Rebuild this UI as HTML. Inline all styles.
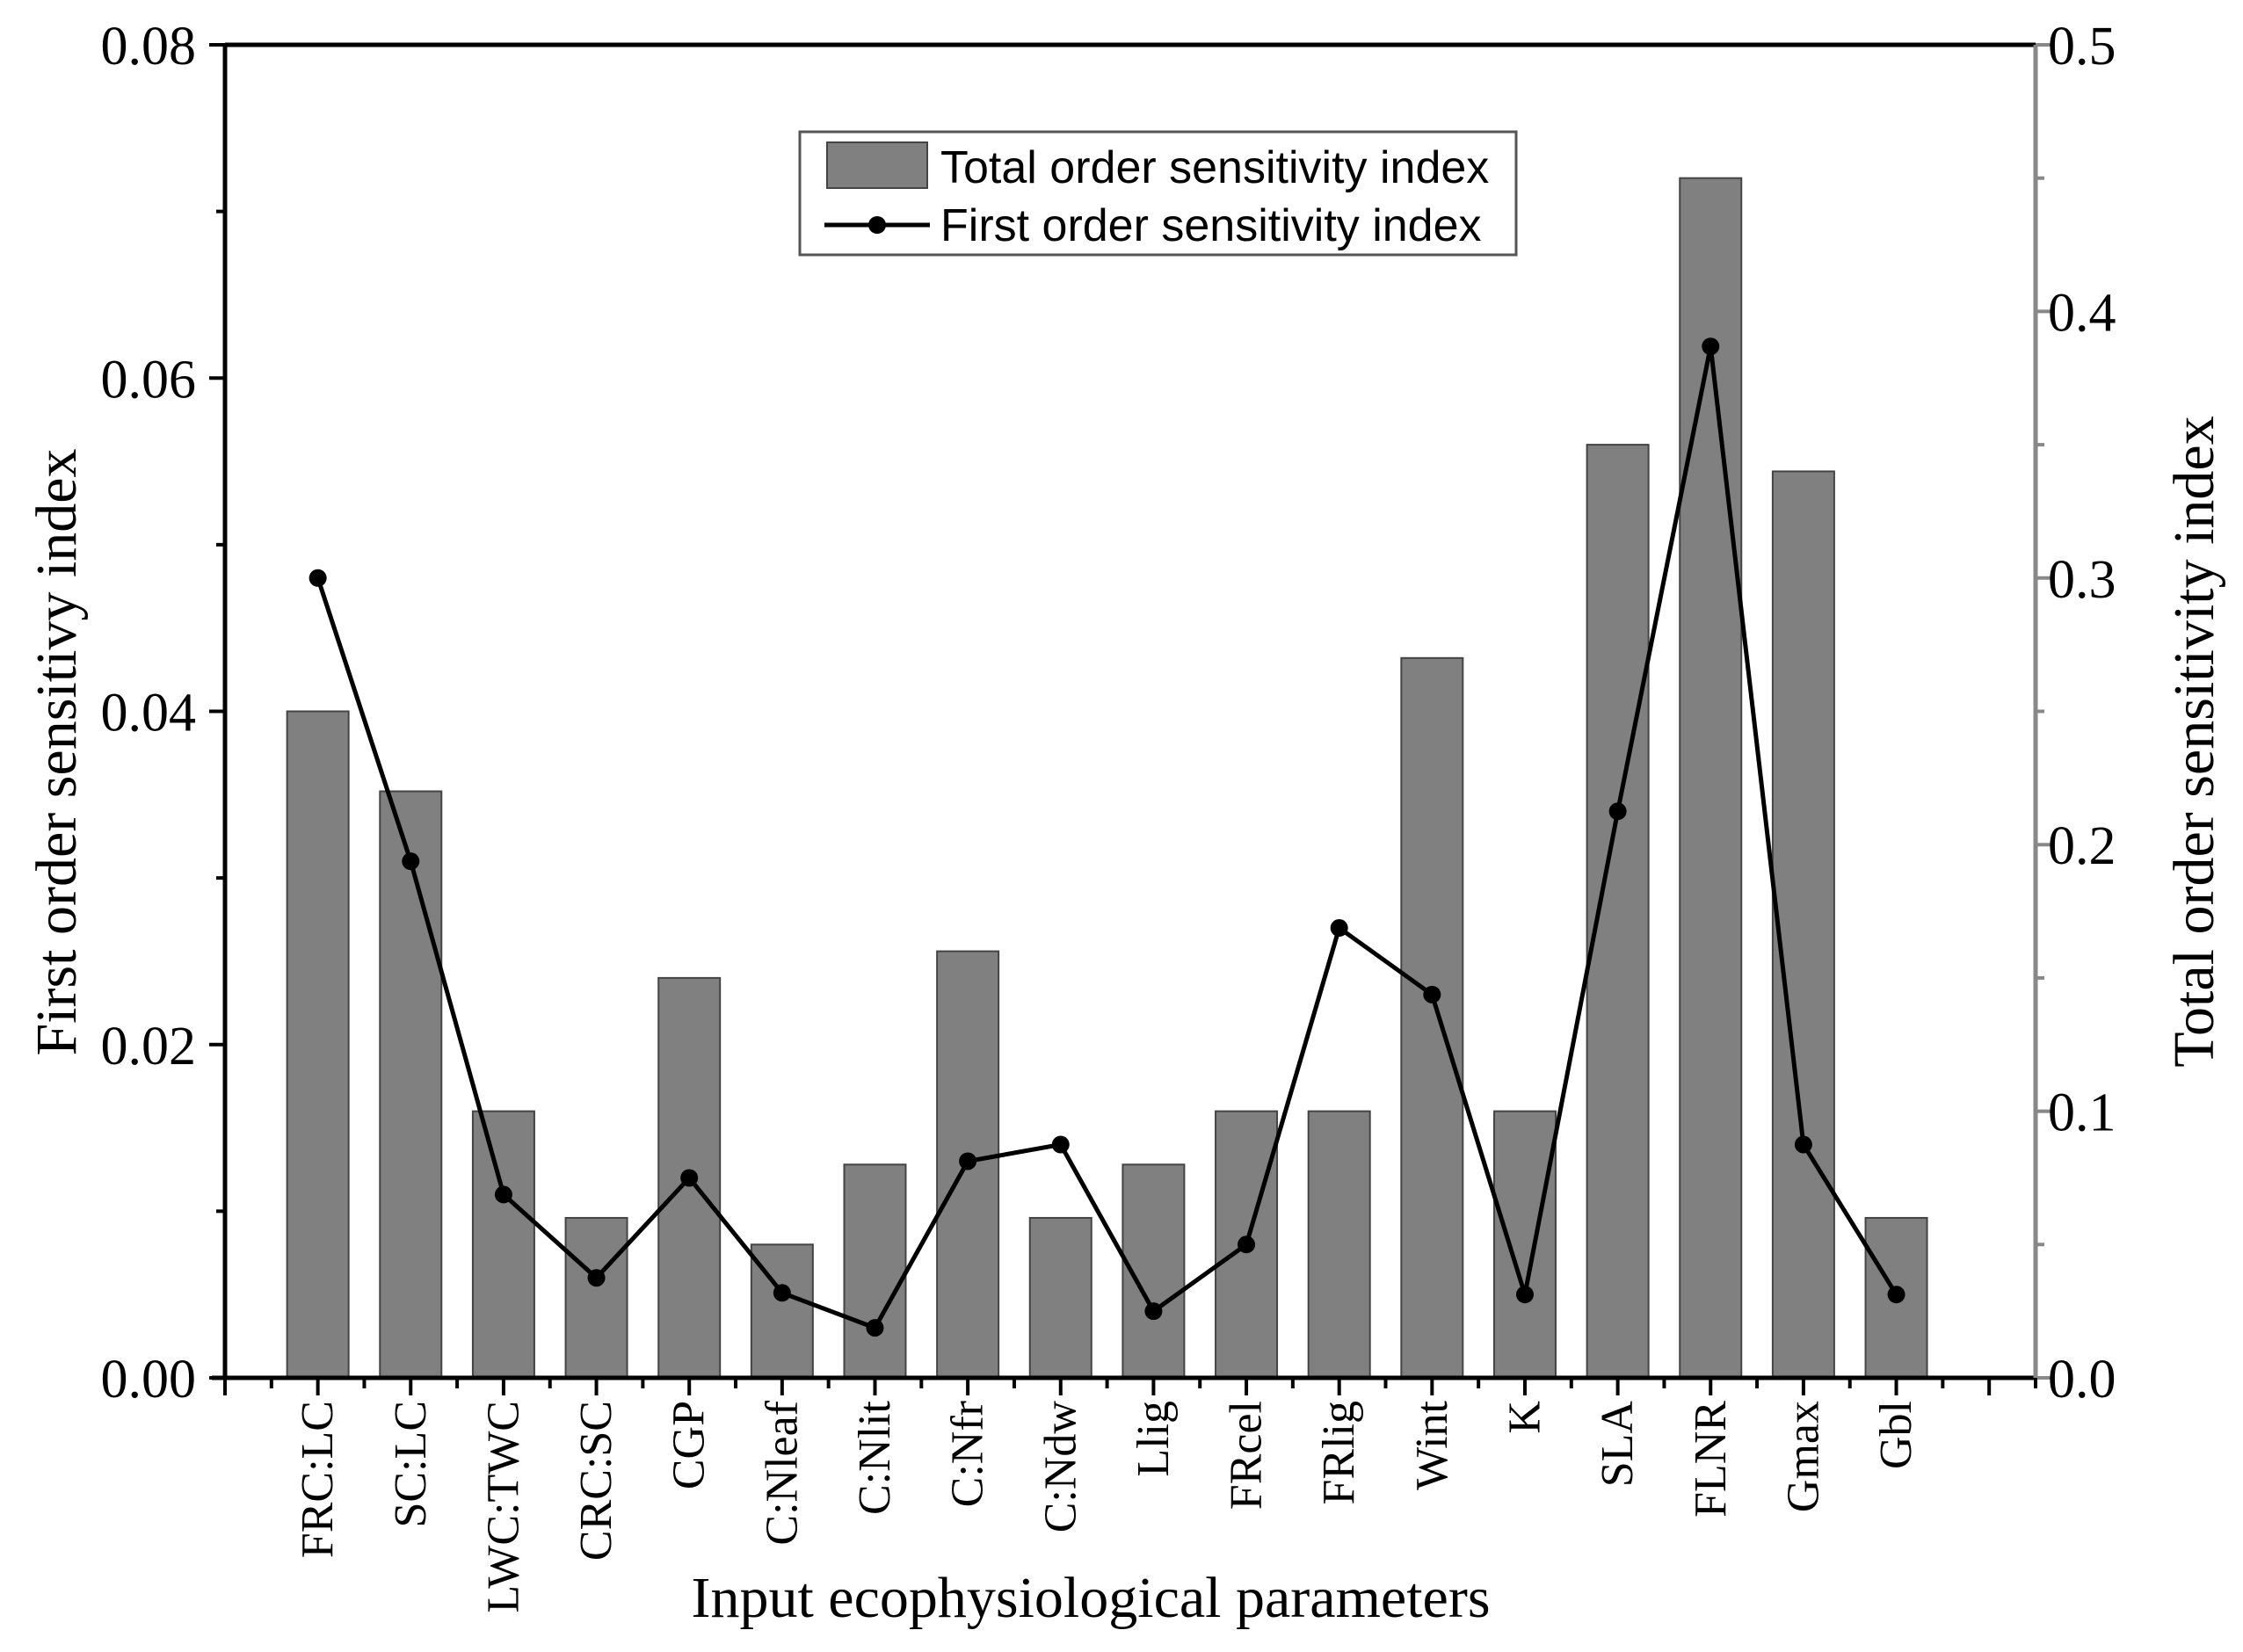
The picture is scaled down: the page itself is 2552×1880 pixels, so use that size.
<!DOCTYPE html>
<html><head><meta charset="utf-8"><style>
html,body{margin:0;padding:0;background:#fff}
svg{display:block}
</style></head><body>
<svg id="chart" width="2552" height="1880" viewBox="0 0 2552 1880" xmlns="http://www.w3.org/2000/svg"></svg>
<script>
const categories=["FRC:LC","SC:LC","LWC:TWC","CRC:SC","CGP","C:Nleaf","C:Nlit","C:Nfr","C:Ndw","Llig","FRcel","FRlig","Wint","K","SLA","FLNR","Gmax","Gbl"];
const totalOrder=[0.25,0.22,0.10,0.06,0.15,0.05,0.08,0.16,0.06,0.08,0.10,0.10,0.27,0.10,0.35,0.45,0.34,0.06];
const firstOrder=[0.048,0.031,0.011,0.006,0.012,0.0051,0.003,0.013,0.014,0.004,0.008,0.027,0.023,0.005,0.034,0.0619,0.014,0.005];
const leftTicks=["0.00","0.02","0.04","0.06","0.08"];
const rightTicks=["0.0","0.1","0.2","0.3","0.4","0.5"];

const L=256,R=2316,T=51,B=1568;
const NS='http://www.w3.org/2000/svg';
const svg=document.getElementById('chart');
function xs(i){return L+(i+1)*(R-L)/19.5;}
function yl(v){return B-v/0.08*(B-T);}
function yr(v){return B-v/0.5*(B-T);}
function mk(tag,attrs,parent){const e=document.createElementNS(NS,tag);for(const k in attrs)e.setAttribute(k,attrs[k]);(parent||svg).appendChild(e);return e;}
const serif='"Liberation Serif", serif', sans='"Liberation Sans", sans-serif';

// bars
const barG=mk('g',{});


const bw=70;
totalOrder.forEach((v,i)=>{
  const r=mk('rect',{x:xs(i)-bw/2,y:yr(v),width:bw,height:B-yr(v),fill:'#808080',stroke:'#444','stroke-width':2},barG);
  
  
});
// line
const pts=firstOrder.map((v,i)=>xs(i)+','+yl(v)).join(' ');
const line=mk('polyline',{points:pts,fill:'none',stroke:'#000','stroke-width':5});


firstOrder.forEach((v,i)=>{
  const c=mk('circle',{cx:xs(i),cy:yl(v),r:10,fill:'#000'});
  
  
});
// axes
const ax=mk('g',{});


mk('line',{x1:L,y1:T,x2:R,y2:T,stroke:'#000','stroke-width':5},ax);
mk('line',{x1:L,y1:T,x2:L,y2:B,stroke:'#000','stroke-width':5},ax);
mk('line',{x1:L-15,y1:B,x2:R,y2:B,stroke:'#000','stroke-width':5},ax);
mk('line',{x1:R,y1:T,x2:R,y2:B,stroke:'#888','stroke-width':5},ax);
// left ticks
for(let k=0;k<=8;k++){const v=k*0.01,len=k%2?10:18;mk('line',{x1:L-len,y1:yl(v),x2:L,y2:yl(v),stroke:'#000','stroke-width':4},ax);}
leftTicks.forEach((t,i)=>{const e=mk('text',{x:223,y:yl(i*0.02)+22,'text-anchor':'end','font-family':serif,'font-size':62,fill:'#000'});e.textContent=t;
});
// right ticks
for(let k=0;k<=10;k++){const v=k*0.05,len=k%2?10:18;mk('line',{x1:R,y1:yr(v),x2:R+len,y2:yr(v),stroke:'#888','stroke-width':4},ax);}
rightTicks.forEach((t,i)=>{const e=mk('text',{x:2330,y:yr(i*0.1)+22,'text-anchor':'start','font-family':serif,'font-size':62,fill:'#000'});e.textContent=t;
});
// bottom ticks
for(let k=0;k<=39;k++){const x=L+k*(R-L)/39;const len=k%2?12:20;mk('line',{x1:x,y1:B,x2:x,y2:B+len,stroke:'#000','stroke-width':4},ax);}
categories.forEach((c,i)=>{const x=xs(i),y=1594;const e=mk('text',{x:x,y:y,transform:`rotate(-90 ${x} ${y})`,'text-anchor':'end','dominant-baseline':'central','font-family':serif,'font-size':52,fill:'#000'});e.textContent=c;
});
// titles
let e=mk('text',{x:1241,y:1840,'text-anchor':'middle','font-family':serif,'font-size':66,fill:'#000'});e.textContent='Input ecophysiological parameters';

e=mk('text',{x:86,y:856,transform:'rotate(-90 86 856)','text-anchor':'middle','font-family':serif,'font-size':66,fill:'#000'});e.textContent='First order sensitivy index';

e=mk('text',{x:2518,y:844,transform:'rotate(-90 2518 844)','text-anchor':'middle','font-family':serif,'font-size':66,fill:'#000'});e.textContent='Total order sensitivity index';

// legend
const lg=mk('g',{});


mk('rect',{x:910,y:150,width:815,height:140,fill:'#fff',stroke:'#555','stroke-width':3},lg);
const le1=mk('rect',{x:941,y:162,width:114,height:52,fill:'#808080',stroke:'#444','stroke-width':2},lg);

mk('line',{x1:938,y1:256,x2:1058,y2:256,stroke:'#000','stroke-width':5},lg);
mk('circle',{cx:998,cy:256,r:10,fill:'#000'},lg);
e=mk('text',{x:1070,y:208,'font-family':sans,'font-size':52,fill:'#000'},lg);e.textContent='Total order sensitivity index';

e=mk('text',{x:1070,y:274,'font-family':sans,'font-size':52,fill:'#000'},lg);e.textContent='First order sensitivity index';

</script>
</body></html>
